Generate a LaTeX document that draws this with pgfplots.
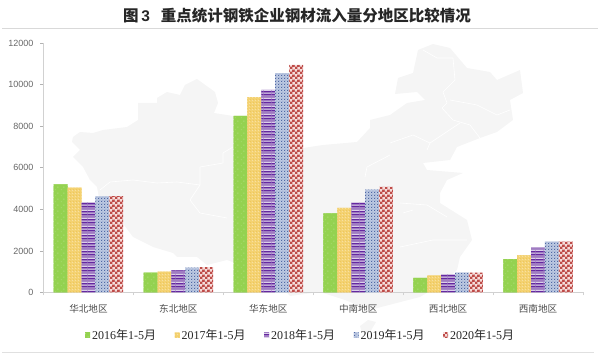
\documentclass[border=0pt]{standalone}
\usepackage{fontspec}
\usepackage{pgfplots}
\pgfplotsset{compat=1.18}
\usetikzlibrary{patterns}
\setmainfont{Liberation Serif}
\newfontfamily\cjk{Noto Sans CJK SC}
\newfontfamily\arial{Liberation Sans}
\definecolor{gA}{HTML}{94D250}\definecolor{gB}{HTML}{B4DE84}
\definecolor{yA}{HTML}{F4D272}\definecolor{yB}{HTML}{F8E0A0}\definecolor{yC}{HTML}{EEC75C}
\definecolor{pA}{HTML}{6428A0}\definecolor{pB}{HTML}{A07CC2}\definecolor{pC}{HTML}{DCCFEA}
\definecolor{bA}{HTML}{4F69A5}\definecolor{bB}{HTML}{BECAE2}\definecolor{bC}{HTML}{8FA3CC}
\definecolor{rA}{HTML}{BE4B48}\definecolor{rB}{HTML}{F5DCDA}
\definecolor{mapc}{HTML}{F5F5F5}
\newcommand\R[5]{\pgfsetfillcolor{#5}\pgfpathrectangle{\pgfqpoint{#1pt}{#2pt}}{\pgfqpoint{#3pt}{#4pt}}\pgfusepath{fill}}
\pgfdeclarepatterninherentlycolored{greenp}{\pgfpointorigin}{\pgfqpoint{6pt}{6pt}}{\pgfqpoint{6pt}{6pt}}{%
  \R{0}{0}{6}{6}{gA}\R{1}{1}{1}{1}{gB}\R{4}{4}{1}{1}{gB}}
\pgfdeclarepatterninherentlycolored{yellowp}{\pgfpointorigin}{\pgfqpoint{3pt}{3pt}}{\pgfqpoint{3pt}{3pt}}{%
  \R{0}{0}{3}{3}{yA}\R{0}{0}{1}{1}{yB}\R{1.5}{1.5}{1}{1}{yC}}
\pgfdeclarepatterninherentlycolored{purplep}{\pgfpointorigin}{\pgfqpoint{8pt}{8pt}}{\pgfqpoint{8pt}{8pt}}{%
  \R{0}{0}{8}{8}{pB}\R{0}{0}{8}{1.4}{pA}\R{0}{1.4}{8}{0.9}{pC}\R{0}{3.3}{8}{1.4}{pA}\R{0}{4.7}{8}{0.9}{pC}}
\pgfdeclarepatterninherentlycolored{bluep}{\pgfpointorigin}{\pgfqpoint{3.4pt}{3.4pt}}{\pgfqpoint{3.4pt}{3.4pt}}{%
  \R{0}{0}{3.4}{3.4}{bB}\R{0}{0}{1.2}{1.2}{bA}\R{1.7}{1.7}{1.2}{1.2}{bC}}
\pgfdeclarepatterninherentlycolored{redp}{\pgfpointorigin}{\pgfqpoint{5pt}{5pt}}{\pgfqpoint{5pt}{5pt}}{%
  \R{0}{0}{5}{5}{rB}\R{0}{0}{2.7}{2.7}{rA}\R{2.5}{2.5}{2.7}{2.7}{rA}}
\begin{document}
\begin{tikzpicture}
\path[use as bounding box] (0pt,0pt) rectangle (598pt,359pt);
\begin{scope}[x=1pt,y=-1pt,yshift=359pt]
% pale map behind the chart (coordinates in image pixels)
\fill[mapc] (73,137)--(80,132)--(93,133)--(103,130)--(127,127)--(138,120)--(138,103)--(157,103)--(157,98)--(167,92)--(180,95)--(185,85)--(197,79)--(215,92)--(218,103)--(214,113)--(233,116)--(303,148)--(323,145)--(357,142)--(370,128)--(370,120)--(390,115)--(407,103)--(425,100)--(417,92)--(395,94)--(398,78)--(413,73)--(418,50)--(433,44)--(450,48)--(467,68)--(490,72)--(497,80)--(520,70)--(523,93)--(510,100)--(513,120)--(497,132)--(480,138)--(457,147)--(450,160)--(423,163)--(427,170)--(463,173)--(447,180)--(440,193)--(440,203)--(467,220)--(472,240)--(460,257)--(457,270)--(440,285)--(420,297)--(385,306)--(370,310)--(345,300)--(320,292)--(290,296)--(270,276)--(227,260)--(207,265)--(197,257)--(177,257)--(173,253)--(153,247)--(133,237)--(113,210)--(100,203)--(97,187)--(90,180)--(83,167)--(73,157)--(80,150)--(72,142)--cycle;
\fill[mapc] (376,322)--(368,320)--(360,326)--(362,333)--(370,332)--cycle;
\begin{scope}[white,line width=0.6pt,line join=round]
\draw (100,190)--(110,182)--(133,180)--(157,183)--(177,182)--(200,185)--(190,200)--(200,213)--(227,218);
\draw (200,185)--(200,167)--(223,163)--(223,153)--(233,147);
\draw (423,50)--(437,58)--(453,58)--(455,80)--(443,92)--(447,103)--(442,108)--(453,120)--(470,125)--(480,138);
\draw (450,100)--(477,105)--(497,115)--(510,110);
\draw (460,123)--(430,143)--(427,150);
\draw (390,143)--(413,135)--(430,143);
\draw (390,155)--(367,167)--(365,177);
\draw (400,203)--(427,205)--(447,217);
\draw (400,247)--(433,240)--(467,240);
\draw (403,213)--(413,210);
\end{scope}
\draw[color=black!15,line width=1pt] (2,29)--(598,29);
\draw[color=black!12,line width=1pt] (2,352.7)--(594,352.7);
\node[font=\cjk\bfseries\fontsize{15.5pt}{16pt}\selectfont,text=black!85,anchor=center] at (297,16) {图\,{\arial\bfseries 3}\hspace{0.7em}重点统计钢铁企业钢材流入量分地区比较情况};
\end{scope}
\begin{axis}[
  at={(43.5pt,66.5pt)},anchor=south west,
  scale only axis,width=539.5pt,height=249.5pt,
  xmin=-0.5,xmax=5.5,ymin=0,ymax=12000,
  ybar=0pt,bar width=13.9pt,
  axis x line*=bottom,axis y line*=left,
  axis line style={color=black!18,line width=0.8pt,-},
  tick align=outside,
  xtick={0,1,2,3,4,5},
  xticklabels={华北地区,东北地区,华东地区,中南地区,西北地区,西南地区},
  minor xtick={-0.5,0.5,1.5,2.5,3.5,4.5,5.5},
  major x tick style={draw=none},
  minor x tick style={color=black!18,line width=0.7pt},
  minor tick length=3pt,
  ytick={0,2000,4000,6000,8000,10000,12000},
  major y tick style={color=black!30,line width=0.7pt},
  major tick length=3pt,
  scaled y ticks=false,
  yticklabel style={font=\arial\fontsize{9pt}{9pt}\selectfont,text=black!60,/pgf/number format/assume math mode=true,/pgf/number format/1000 sep={},xshift=-3.5pt},
  xticklabel style={font=\cjk\fontsize{9.6pt}{10pt}\selectfont,text=black!70,yshift=-5pt},
  legend columns=5,
  legend style={at={(0.4765,-0.1715)},anchor=center,draw=none,fill=none,font=\fontsize{12pt}{13pt}\selectfont,text=black!85,inner sep=0pt,
    /tikz/every even column/.style={column sep=16.5pt}},
  legend image code/.code={\path[#1,draw=none] (0pt,-2.5pt) rectangle (5pt,2.5pt);},
]
\addplot[draw=none,fill=gA,postaction={pattern=greenp}] coordinates {(0,5200)(1,950)(2,8500)(3,3800)(4,700)(5,1600)};
\addplot[draw=none,fill=yA,postaction={pattern=yellowp}] coordinates {(0,5050)(1,1000)(2,9400)(3,4070)(4,820)(5,1790)};
\addplot[draw=none,fill=pB,postaction={pattern=purplep}] coordinates {(0,4330)(1,1060)(2,9750)(3,4320)(4,870)(5,2170)};
\addplot[draw=none,fill=bB,postaction={pattern=bluep}] coordinates {(0,4620)(1,1200)(2,10550)(3,4950)(4,950)(5,2450)};
\addplot[draw=none,fill=rB,postaction={pattern=redp}] coordinates {(0,4640)(1,1220)(2,10950)(3,5080)(4,960)(5,2450)};
\addlegendentry{2016{\cjk 年}1-5{\cjk 月}}
\addlegendentry{2017{\cjk 年}1-5{\cjk 月}}
\addlegendentry{2018{\cjk 年}1-5{\cjk 月}}
\addlegendentry{2019{\cjk 年}1-5{\cjk 月}}
\addlegendentry{2020{\cjk 年}1-5{\cjk 月}}
\end{axis}
\end{tikzpicture}
\end{document}
